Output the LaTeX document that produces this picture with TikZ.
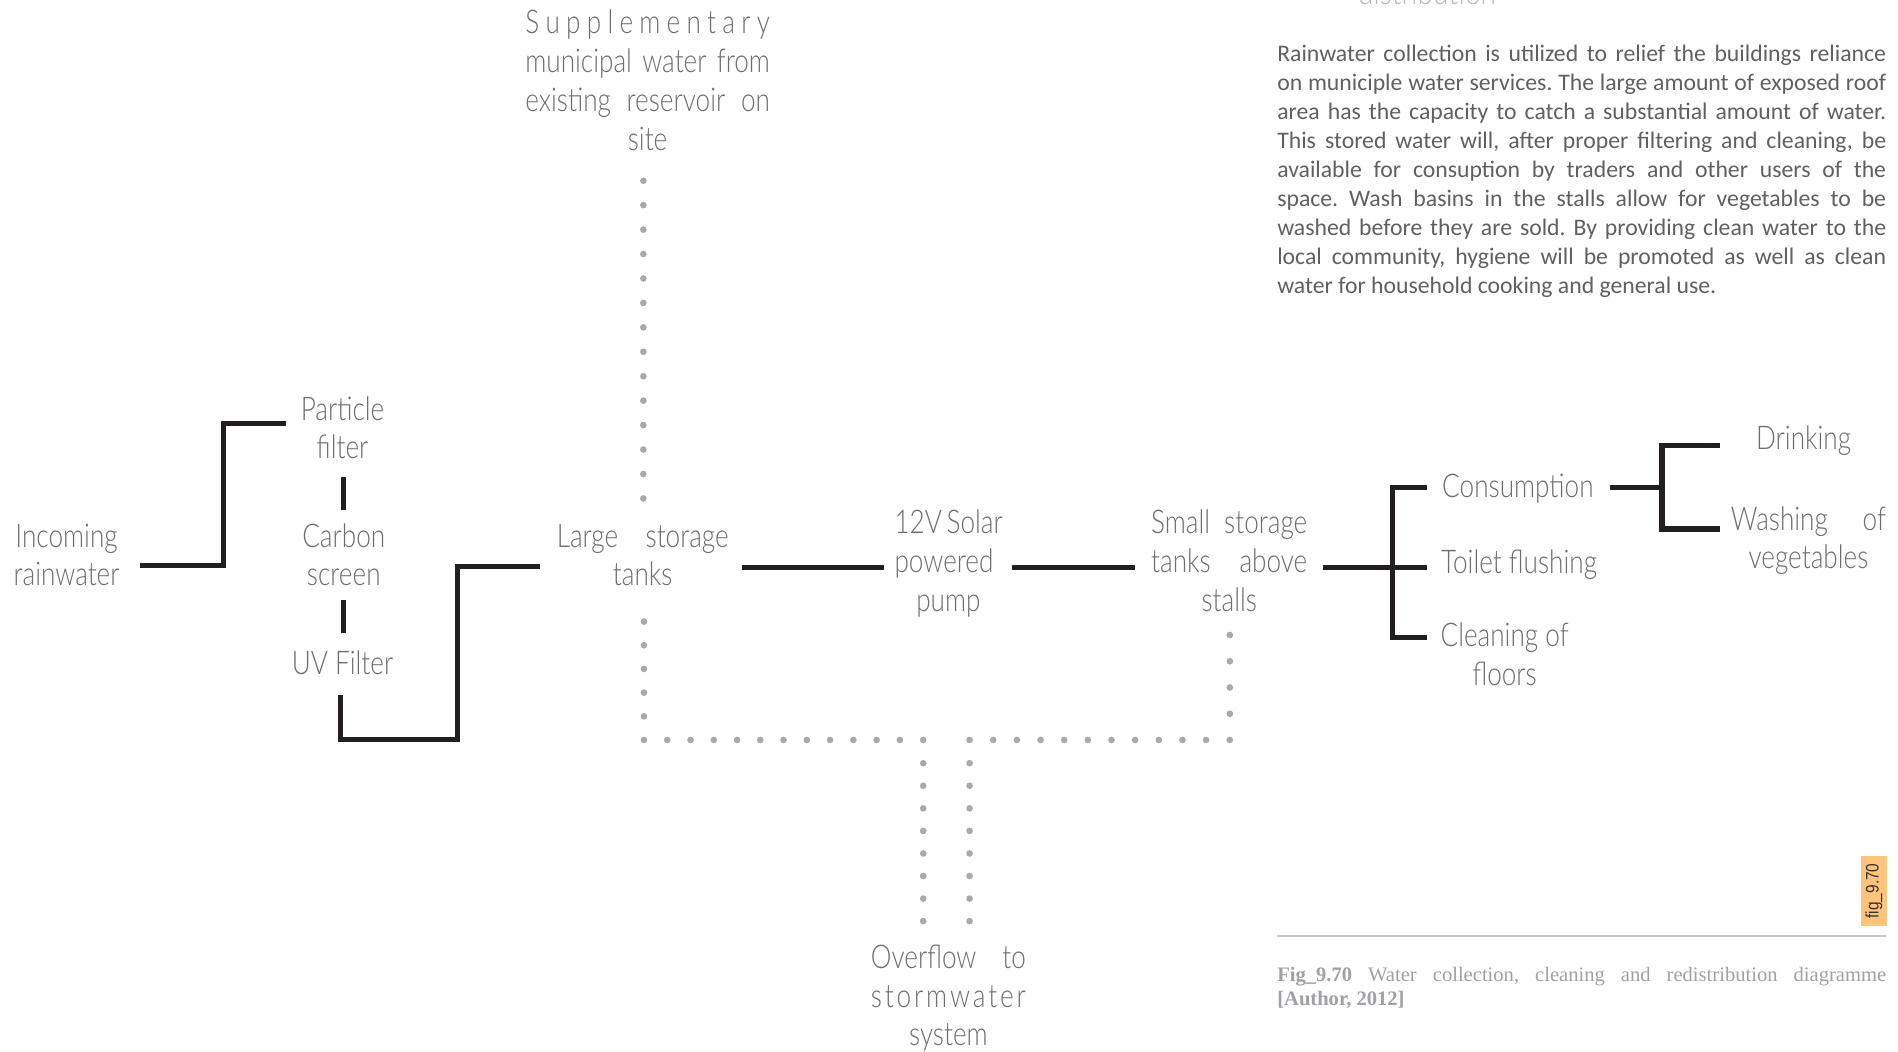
\documentclass[tikz,border=0pt]{standalone}
\usepackage{fontspec}
\newfontfamily\thinfont{Lato Light}[FakeStretch=0.8]
\newfontfamily\bodyfont{Carlito}
\newfontfamily\capfont{Liberation Serif}
\newfontfamily\tagfont{Liberation Sans}[FakeStretch=0.85]
\definecolor{inkline}{RGB}{35,31,32}
\definecolor{labelgray}{RGB}{109,110,113}
\definecolor{dotgray}{RGB}{167,169,172}
\definecolor{bodygray}{RGB}{95,96,98}
\definecolor{capgray}{RGB}{160,161,164}
\definecolor{rulegray}{RGB}{200,200,200}
\definecolor{headgray}{RGB}{185,186,188}
\definecolor{tagorange}{RGB}{254,196,124}
\definecolor{tagtext}{RGB}{50,50,50}
% label nodes are anchored on the baseline of their last line
\tikzset{
  lbl/.style={text=labelgray, font=\thinfont\fontsize{27}{32}\selectfont,
    align=center, inner sep=0pt, anchor=base},
  pipe/.style={draw=inkline, line width=4.2pt},
  dotrun/.style={draw=dotgray, line width=5.5pt, line cap=round,
    dash pattern=on 0pt off #1},
}
\frenchspacing
\begin{document}
\begin{tikzpicture}[x=1pt, y=-1pt]
\useasboundingbox (0,0) rectangle (1568,869);
\clip (0,0) rectangle (1568,869);
\fill[white] (0,0) rectangle (1568,869);

% ---------- labels ----------
\node[lbl] (inc) at (55,484) {Incoming\\rainwater};
\node[lbl] (pf) at (283,379) {Particle\\filter};
\node[lbl] (cs) at (284,484) {Carbon\\screen};
\node[lbl] (uv) at (283,557) {UV Filter};
\node[lbl] (lst) at (531,484) {\makebox[142pt][s]{Large storage}\\tanks};
\node[lbl] (pump) at (783.5,505) {\makebox[89pt][s]{12V Solar}\\\makebox[89pt][s]{powered}\\pump};
\node[lbl] (sst) at (1015.5,505) {\makebox[129pt][s]{Small storage}\\\makebox[129pt][s]{tanks above}\\stalls};
\node[lbl] (cons) at (1254,411) {Consumption};
\node[lbl] (toil) at (1255,474) {Toilet flushing};
\node[lbl] (clean) at (1243,566) {Cleaning of\\floors};
\node[lbl] (drink) at (1490,371) {Drinking};
\node[lbl] (wash) at (1494,470) {\makebox[128pt][s]{Washing of}\\vegetables};
\node[lbl] (sup) at (535,124) {\makebox[202pt][s]{S\hfil u\hfil p\hfil p\hfil l\hfil e\hfil m\hfil e\hfil n\hfil t\hfil a\hfil r\hfil y}\\
  \makebox[202pt][s]{municipal water from}\\
  \makebox[202pt][s]{existing reservoir on}\\site};
\node[lbl] (ovf) at (783.5,864) {\makebox[128pt][s]{Overflow to}\\
  \makebox[128pt][s]{s\hfil t\hfil o\hfil r\hfil m\hfil w\hfil a\hfil t\hfil e\hfil r}\\system};

% ---------- pipe ports and corners ----------
\coordinate (incOut) at (116,467);
\coordinate (pfIn) at (236,350);
\coordinate (pfOut) at (284,394);
\coordinate (csIn) at (284,421);
\coordinate (csOut) at (284,496);
\coordinate (uvIn) at (284,523);
\coordinate (uvOut) at (281,574);
\coordinate (uvLow) at (378,611);
\coordinate (lstIn) at (446,468);
\coordinate (lstOut) at (613,469);
\coordinate (pumpIn) at (730,469);
\coordinate (pumpOut) at (836,469);
\coordinate (sstIn) at (938,469);
\coordinate (sstOut) at (1093,469);
\coordinate (consIn) at (1179,403);
\coordinate (toilIn) at (1179,469);
\coordinate (cleanIn) at (1179,527);
\coordinate (consOut) at (1330,403);
\coordinate (drinkIn) at (1421,368);
\coordinate (washIn) at (1421,437);

% ---------- solid pipes ----------
\draw[pipe] (incOut) -| (185,350) -- (pfIn);
\draw[pipe] (pfOut) -- (csIn);
\draw[pipe] (csOut) -- (uvIn);
\draw[pipe] (uvOut) |- (uvLow) |- (lstIn);
\draw[pipe] (lstOut) -- (pumpIn);
\draw[pipe] (pumpOut) -- (sstIn);
\draw[pipe] (sstOut) -- (toilIn);
\draw[pipe] (consIn) -| (1150,527) -- (cleanIn);
\draw[pipe] (consOut) -- (1373,403);
\draw[pipe] (drinkIn) -| (1373,437) -- (washIn);

% ---------- dotted supply and overflow runs ----------
\coordinate (supOut) at (531.5,149.3);
\coordinate (lstTop) at (531.5,411.8);
\coordinate (lstBot) at (532,513.5);
\coordinate (cornerL) at (532,611.3);
\coordinate (ovfL) at (762.7,611.3);
\coordinate (ovfR) at (801,611.3);
\coordinate (cornerR) at (1016,611.3);
\coordinate (sstBot) at (1016,524.6);
\draw[dotrun=20.19] (supOut) -- (lstTop);
\draw[dotrun=19.56] (lstBot) -- ([yshift=0.05pt]cornerL);
\draw[dotrun=19.22] (cornerL) -- ([xshift=0.05pt]ovfL);
\draw[dotrun=19.54] (ovfR) -- ([xshift=0.05pt]cornerR);
\draw[dotrun=21.67] (sstBot) -- ([yshift=0.05pt]cornerR);
\draw[dotrun=18.64] (762.7,630.5) -- (762.7,761.05);
\draw[dotrun=18.64] (801,630.5) -- (801,761.05);

% ---------- heading remnant, text column and caption ----------
\node[anchor=base, inner sep=0pt, text=headgray,
  font=\thinfont\fontsize{29}{32}\selectfont] (head) at (1179,3.5) {distribution};

\node[anchor=base west, inner sep=0pt, text=bodygray, align=left,
  font=\bodyfont\fontsize{19.6}{23.9}\selectfont] (para) at (1055,242.2) {%
\makebox[503pt][s]{Rainwater collection is utilized to relief the buildings reliance}\\
\makebox[503pt][s]{on municiple water services. The large amount of exposed roof}\\
\makebox[503pt][s]{area has the capacity to catch a substantial amount of water.}\\
\makebox[503pt][s]{This stored water will, after proper filtering and cleaning, be}\\
\makebox[503pt][s]{available for consuption by traders and other users of the}\\
\makebox[503pt][s]{space. Wash basins in the stalls allow for vegetables to be}\\
\makebox[503pt][s]{washed before they are sold. By providing clean water to the}\\
\makebox[503pt][s]{local community, hygiene will be promoted as well as clean}\\
water for household cooking and general use.};

\node[rotate=90, fill=tagorange, minimum width=58pt, minimum height=22pt,
  inner sep=0pt, text=tagtext, font=\tagfont\fontsize{15}{16}\selectfont]
  (tag) at (1548,736) {fig\_9.70};

\coordinate (ruleL) at (1055,773);
\coordinate (ruleR) at (1558,773);
\draw[rulegray, line width=1.6pt] (ruleL) -- (ruleR);

\node[anchor=base west, inner sep=0pt, text=capgray, align=left,
  font=\capfont\fontsize{17}{20}\selectfont] (cap) at (1055,831) {%
\makebox[503pt][s]{\textbf{Fig\_9.70} Water collection, cleaning and redistribution diagramme}\\
\textbf{[Author, 2012]}};
\end{tikzpicture}
\end{document}
